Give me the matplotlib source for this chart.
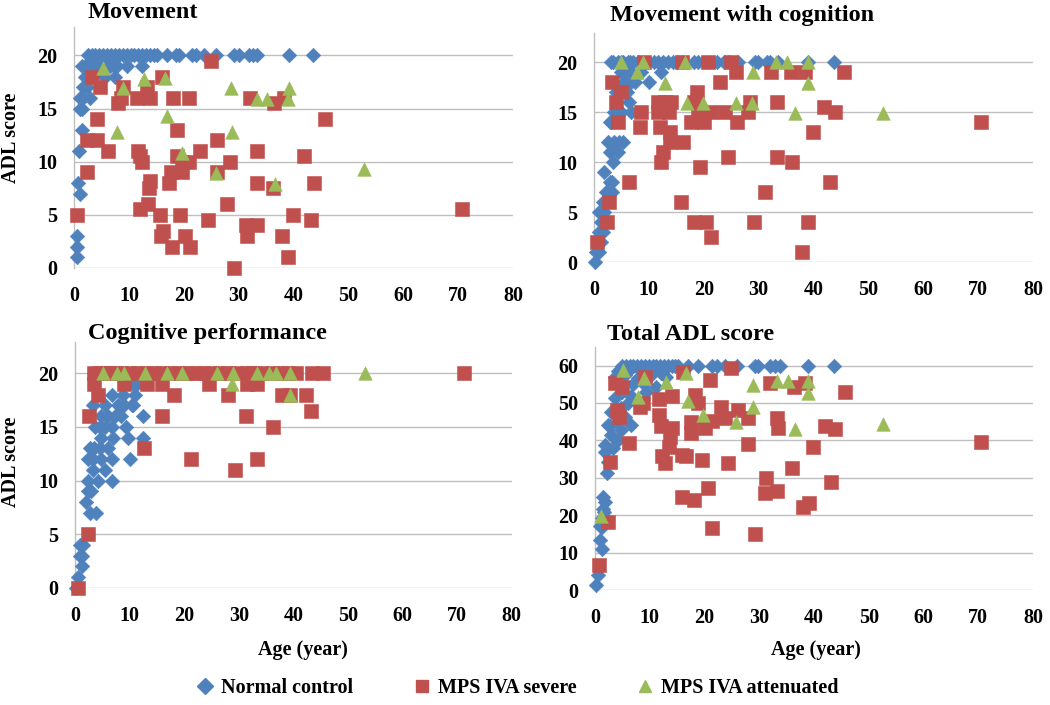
import matplotlib

matplotlib.use("Agg")
import matplotlib.pyplot as plt
from matplotlib.lines import Line2D


plt.rcParams["font.family"] = ["Liberation Serif", "DejaVu Serif"]
plt.rcParams["font.weight"] = "bold"

BLUE = "#4F81BD"
RED = "#C0504D"
GREEN = "#9BBB59"
GRID = "#BFBFBF"

SERIES_NAMES = ["Normal control", "MPS IVA severe", "MPS IVA attenuated"]
X_TICKS = [0, 10, 20, 30, 40, 50, 60, 70, 80]
SUB_TICKS = [0, 5, 10, 15, 20]
TOTAL_TICKS = [0, 10, 20, 30, 40, 50, 60]

# (age, score) pairs

MOVE_NORMAL = [
    (2.6, 20), (3.2, 20), (3.8, 20), (4.5, 20), (5.2, 20), (6.0, 20), (6.8, 20),
    (7.5, 20), (8.2, 20), (9.0, 20), (9.7, 20), (10.4, 20), (11.0, 20), (11.7, 20),
    (12.4, 20), (13.1, 20), (13.8, 20), (14.5, 20), (15.2, 20), (17.0, 20), (18.5, 20),
    (19.2, 20), (21.5, 20), (22.3, 20), (23.7, 20), (25.8, 20), (29.1, 20), (30.0, 20),
    (31.9, 20), (32.7, 20), (33.3, 20), (39.2, 20), (43.6, 20),
    (1.5, 19), (2.0, 19), (2.6, 19), (3.2, 19), (4.1, 19), (4.8, 19), (5.4, 19),
    (6.6, 19), (7.2, 19), (7.8, 19), (9.6, 19), (12.4, 19),
    (2.0, 18), (5.7, 18), (7.5, 18), (1.7, 17), (2.3, 17),
    (1.1, 16), (1.6, 16), (2.9, 16), (1.0, 15), (1.5, 15),
    (1.4, 13), (0.9, 11), (0.8, 8), (1.1, 7), (0.5, 3), (0.6, 2), (0.5, 1),
]
MOVE_SEVERE = [
    (24.9, 19.5), (3.2, 18), (4.8, 17), (16.0, 18), (9.0, 17), (13.3, 17),
    (8.1, 15.5), (8.6, 16), (11.5, 16), (13.9, 16), (18.0, 16), (20.9, 16),
    (32.1, 16), (36.5, 15.5), (38.2, 16), (45.7, 14), (4.1, 14), (2.4, 12),
    (4.1, 12), (18.8, 13), (26.0, 12), (6.2, 11), (11.6, 11), (12.1, 10.5),
    (12.4, 10), (18.8, 10.5), (19.7, 10), (20.9, 10), (23.0, 11), (28.4, 10),
    (33.4, 11), (42.0, 10.5), (2.3, 9), (17.6, 9), (19.7, 9), (26.0, 9),
    (13.9, 8.2), (13.6, 7.5), (17.4, 8), (33.4, 8), (43.8, 8), (36.2, 7.5),
    (13.5, 6), (27.9, 6), (12.1, 5.5), (0.5, 5), (15.7, 5), (19.4, 5), (40.0, 5),
    (24.4, 4.5), (43.2, 4.5), (70.7, 5.5), (16.3, 3.5), (15.9, 3), (20.3, 3),
    (31.3, 4), (31.5, 3), (33.3, 4), (37.9, 3), (17.9, 2), (21.2, 2), (39.0, 1),
    (29.1, 0),
]
MOVE_ATTENUATED = [
    (5.2, 18.8), (12.8, 17.8), (16.5, 17.9), (9.0, 16.9), (28.7, 16.9), (39.2, 16.9),
    (33.3, 15.9), (35.2, 15.9), (39.0, 15.9), (17.0, 14.3), (7.8, 12.8), (28.8, 12.8),
    (19.7, 10.8), (25.9, 8.9), (36.6, 7.9), (52.9, 9.3),
]

COG_MOVE_NORMAL = [
    (3.1, 20), (3.5, 20), (4.4, 20), (4.9, 20), (5.3, 20), (6.2, 20), (6.6, 20),
    (7.1, 20), (8.0, 20), (11.0, 20), (11.7, 20), (12.6, 20), (13.5, 20), (14.4, 20),
    (15.2, 20), (16.0, 20), (18.3, 20), (18.9, 20), (22.5, 20), (23.7, 20), (24.7, 20),
    (26.2, 20), (29.3, 20), (29.9, 20), (31.6, 20), (32.0, 20), (33.5, 20), (39.0, 20),
    (43.7, 20),
    (4.9, 19), (5.9, 19), (6.7, 19), (8.6, 19), (12.2, 19),
    (5.5, 18), (6.7, 18), (7.4, 18), (10.1, 18), (4.0, 17), (6.1, 17), (6.4, 16),
    (3.7, 15), (4.3, 15), (5.0, 15), (6.7, 15), (2.9, 14), (3.1, 14),
    (2.5, 12), (3.6, 12), (4.5, 12), (5.3, 12), (2.9, 11), (4.4, 11), (3.4, 10),
    (1.9, 9), (2.9, 8), (3.3, 8), (2.2, 7), (3.3, 7), (1.6, 6), (1.0, 5), (1.9, 5),
    (1.3, 4), (1.0, 3), (1.6, 3), (1.2, 2), (0.4, 1), (1.0, 1), (0.2, 0),
]
COG_MOVE_SEVERE = [
    (9.2, 20), (16.0, 20), (20.8, 20), (25.0, 20), (25.9, 19), (32.2, 19), (36.0, 19),
    (38.4, 19), (45.6, 19), (22.9, 18), (3.3, 18), (4.9, 17), (18.8, 17), (4.1, 16),
    (28.4, 16), (33.4, 16), (11.7, 16), (12.9, 16), (14.1, 16), (18.3, 16), (8.6, 15),
    (11.7, 15), (13.6, 15), (19.0, 15), (21.4, 15), (23.8, 15), (28.1, 15),
    (42.0, 15.5), (43.9, 15), (4.3, 14), (8.3, 13.5), (12.0, 13.5), (17.6, 14),
    (20.0, 14), (26.1, 14), (70.6, 14), (13.8, 13), (40.0, 13), (13.8, 12), (16.2, 12),
    (12.6, 11), (12.2, 10), (24.4, 10.5), (33.4, 10.5), (36.1, 10), (19.4, 9.5),
    (6.3, 8), (43.1, 8), (31.2, 7), (15.8, 6), (2.7, 6), (2.4, 4), (18.2, 4), (20.5, 4),
    (29.2, 4), (39.0, 4), (21.3, 2.5), (0.6, 2), (37.9, 1),
]
COG_MOVE_ATTENUATED = [
    (5.0, 20), (8.9, 20), (16.6, 20), (33.2, 20), (35.2, 20), (39.0, 20), (7.9, 19),
    (28.9, 19), (13.0, 17.9), (39.0, 17.9), (17.0, 15.9), (19.9, 15.9), (25.8, 15.9),
    (28.8, 15.9), (36.6, 14.9), (52.7, 14.9),
]

COG_NORMAL = [
    (3.5, 20), (4.5, 20), (5.5, 20), (6.5, 20), (7.5, 20), (8.5, 20), (9.5, 20),
    (10.5, 20), (30.4, 20), (34.0, 20), (10.7, 19), (11.3, 19),
    (6.7, 18), (8.8, 18), (11.0, 18), (10.4, 17), (3.3, 17), (5.5, 17), (7.9, 17),
    (9.0, 17), (10.7, 17), (4.8, 16), (6.0, 16), (7.3, 16), (8.5, 16), (12.5, 16),
    (3.6, 15), (4.5, 15), (5.5, 15), (6.7, 15), (9.4, 15), (4.8, 14), (7.0, 14),
    (9.8, 14), (12.5, 14), (2.7, 13), (3.5, 13), (4.5, 13), (6.1, 13),
    (2.4, 12), (3.3, 12), (4.8, 12), (6.7, 12), (10.1, 12), (3.3, 11), (5.5, 11),
    (2.4, 10), (4.2, 10), (6.7, 10), (2.4, 9), (3.0, 9), (2.1, 8), (2.7, 7), (3.9, 7),
    (1.0, 4), (1.5, 4), (0.9, 3), (1.2, 3), (1.2, 2), (0.6, 1), (0.1, 0),
]
COG_SEVERE = [
    (3.4, 20), (4.5, 20), (5.8, 20), (7.0, 20), (8.5, 20), (10.0, 20), (11.5, 20),
    (13.0, 20), (14.5, 20), (16.0, 20), (17.5, 20), (19.0, 20), (20.5, 20), (22.0, 20),
    (23.5, 20), (25.0, 20), (26.5, 20), (28.0, 20), (29.5, 20), (31.5, 20), (32.5, 20),
    (34.0, 20), (36.0, 20), (37.5, 20), (39.0, 20), (40.5, 20), (43.5, 20), (45.5, 20),
    (71.2, 20),
    (3.4, 19), (8.9, 19), (13.2, 19), (16.0, 19), (24.5, 19), (31.5, 19), (33.4, 19),
    (4.3, 18), (18.1, 18), (28.1, 18), (38.0, 18), (39.4, 18), (42.3, 18),
    (2.6, 16), (16.0, 16), (31.4, 16), (43.3, 16.5), (36.2, 15), (12.7, 13),
    (21.3, 12), (33.4, 12), (29.3, 11), (2.3, 5), (0.6, 0),
]
COG_ATTENUATED = [
    (5.2, 20), (7.7, 20), (9.0, 20), (12.9, 20), (16.9, 20), (19.6, 20), (26.0, 20),
    (29.0, 20), (33.4, 20), (35.6, 20), (36.8, 20), (39.3, 20), (53.1, 20),
    (28.8, 19), (39.3, 18),
]

TOTAL_NORMAL = [
    (4.9, 60), (5.6, 60), (6.3, 60), (7.0, 60), (7.7, 60), (8.4, 60), (9.1, 60),
    (9.8, 60), (10.5, 60), (11.2, 60), (11.9, 60), (12.6, 60), (13.3, 60), (14.0, 60),
    (14.6, 60), (15.2, 60), (17.0, 60), (18.9, 60), (21.3, 60), (22.2, 60), (23.7, 60),
    (25.9, 60), (29.2, 60), (29.8, 60), (31.9, 60), (32.8, 60), (33.8, 60), (38.9, 60),
    (43.7, 60),
    (4.2, 58.5), (6.0, 58.5), (8.0, 59), (12.0, 58), (13.0, 57), (3.6, 57), (5.4, 57.5),
    (7.8, 56.6), (10.3, 57.5), (9.0, 55), (7.0, 55), (11.2, 54.4), (9.4, 53), (5.0, 53),
    (6.6, 52), (3.6, 51.2), (6.0, 49.9), (4.8, 48.6), (3.0, 47.7), (5.4, 46.3),
    (4.2, 45), (2.4, 44.1), (2.7, 43.9), (6.6, 44.1), (4.8, 42.8), (3.0, 41.4),
    (4.2, 40.1), (1.8, 38.8), (3.3, 37.9), (1.8, 37), (2.4, 34.3), (2.1, 31.2),
    (1.5, 25), (1.8, 23.6), (1.5, 21.8), (1.7, 21), (1.2, 19.2), (0.9, 17.2),
    (1.2, 16.9), (0.9, 13.4), (1.3, 10.9), (0.5, 4), (0.2, 1.3),
]
TOTAL_SEVERE = [
    (24.9, 59.3), (16.0, 58.4), (3.6, 55.3), (4.9, 54.2), (9.1, 56.9), (21.0, 56.1),
    (31.9, 55.3), (36.4, 54.4), (38.3, 55.3), (45.6, 52.9), (11.6, 51.1), (14.0, 52),
    (8.2, 49), (8.8, 49.9), (18.2, 52.1), (18.9, 49.9), (4.1, 48.1), (4.3, 46.3),
    (23.1, 49), (26.2, 48.1), (11.7, 46.8), (28.0, 45.9), (33.3, 45.9), (33.5, 43.2),
    (21.3, 45.3), (23.7, 45.9), (12.0, 43.9), (14.0, 43.2), (17.6, 45), (17.6, 42.1),
    (20.1, 43.2), (42.0, 43.9), (43.8, 43), (13.7, 41), (13.5, 38.3), (6.2, 39.2),
    (28.0, 39), (39.8, 38.3), (70.6, 39.7), (12.2, 35.7), (12.8, 33.9), (15.8, 36.1),
    (16.7, 35.7), (19.5, 34.8), (24.3, 34), (35.9, 32.5), (2.7, 34.3), (31.3, 30),
    (31.1, 26), (33.3, 26.6), (43.1, 29), (15.8, 25), (18.1, 24.1), (20.6, 27.2),
    (38.0, 22.1), (39.1, 23.2), (2.4, 18.1), (21.4, 16.5), (29.2, 14.9), (0.7, 6.7),
]
TOTAL_ATTENUATED = [
    (5.2, 58.8), (16.6, 57.9), (9.0, 56.6), (12.9, 55.7), (33.3, 55.8), (35.3, 55.8),
    (38.9, 55.8), (28.8, 54.8), (38.9, 52.6), (7.9, 51.7), (16.9, 50.4), (28.8, 49),
    (19.8, 46.8), (25.7, 44.8), (52.6, 44.4), (36.6, 43), (1.1, 19.8),
]

# axes rectangles in figure fractions: left, bottom, width, height
PANELS = [
    ("Movement", MOVE_NORMAL, MOVE_SEVERE, MOVE_ATTENUATED,
     [0.0705, 0.620, 0.418, 0.342], 22.7, SUB_TICKS),
    ("Movement with cognition", COG_MOVE_NORMAL, COG_MOVE_SEVERE, COG_MOVE_ATTENUATED,
     [0.5657, 0.628, 0.418, 0.325], 22.9, SUB_TICKS),
    ("Cognitive performance", COG_NORMAL, COG_SEVERE, COG_ATTENUATED,
     [0.0714, 0.166, 0.416, 0.349], 22.9, SUB_TICKS),
    ("Total ADL score", TOTAL_NORMAL, TOTAL_SEVERE, TOTAL_ATTENUATED,
     [0.5667, 0.163, 0.417, 0.345], 65.0, TOTAL_TICKS),
]

# pixel positions (from the top-left corner) of the panel titles and side labels
TITLE_POS = [(88, 12), (610, 15), (88, 333), (607, 334)]
YLABEL_POS = [(11, 138), (11, 462)]
XLABEL_POS = [(303, 650), (816, 650)]

STYLES = [
    ("D", BLUE, 55),
    ("s", RED, 92),
    ("^", GREEN, 95),
]


def scatter_points(ax, points, marker, color, size):
    ages = [p[0] for p in points]
    scores = [p[1] for p in points]
    ax.scatter(ages, scores, marker=marker, s=size, color=color,
               edgecolors=color, linewidths=0.4, clip_on=False, zorder=3)


def setup_axes(ax, ymax, yticks):
    ax.set_xlim(0, 80)
    ax.set_ylim(0, ymax)
    ax.set_xticks(X_TICKS)
    ax.set_yticks(yticks)
    ax.yaxis.grid(True, color=GRID, linewidth=1.0)
    ax.set_axisbelow(True)
    for side in ("top", "right", "bottom"):
        ax.spines[side].set_visible(False)
    ax.spines["left"].set_color(GRID)
    ax.spines["left"].set_linewidth(1.0)
    ax.tick_params(axis="both", length=0, labelsize=14.5)
    ax.tick_params(axis="y", pad=12)
    ax.tick_params(axis="x", pad=13)
    for label in ax.get_xticklabels() + ax.get_yticklabels():
        label.set_fontweight("bold")


fig = plt.figure(figsize=(10.5, 7.05), dpi=100)
W, H = 1050, 705

for (title, normal, severe, attenuated, rect, ymax, yticks), (tx, ty) in zip(
    PANELS, TITLE_POS
):
    ax = fig.add_axes(rect)
    for points, (marker, color, size) in zip((normal, severe, attenuated), STYLES):
        scatter_points(ax, points, marker, color, size)
    setup_axes(ax, ymax, yticks)
    fig.text(tx / W, 1 - ty / H, title, fontsize=17.5, fontweight="bold",
             ha="left", va="center")

for lx, ly in YLABEL_POS:
    fig.text(lx / W, 1 - ly / H, "ADL score", fontsize=14.5, fontweight="bold",
             rotation=90, ha="center", va="center")

for lx, ly in XLABEL_POS:
    fig.text(lx / W, 1 - ly / H, "Age (year)", fontsize=14.5, fontweight="bold",
             ha="center", va="center")

handles = [
    Line2D([], [], linestyle="none", marker=m, color=c, markersize=8)
    for m, c, _ in STYLES
]
fig.legend(handles, SERIES_NAMES, loc="center", bbox_to_anchor=(0.493, 1 - 688 / H),
           ncol=3, frameon=False, fontsize=14.5, handlelength=0.8,
           handletextpad=0.4, columnspacing=3.0)

fig.savefig("out.png", dpi=100)
